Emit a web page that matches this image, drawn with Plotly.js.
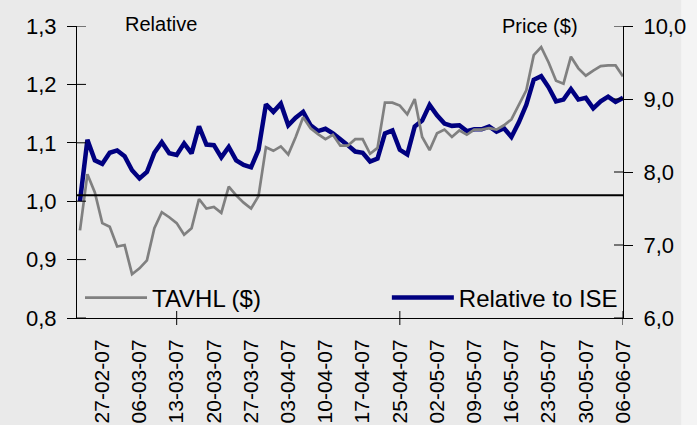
<!DOCTYPE html>
<html>
<head>
<meta charset="utf-8">
<script src="https://cdn.plot.ly/plotly-3.0.1.min.js"></script>
<style>
  html, body { margin: 0; padding: 0; background: #eaeaea; }
  #chart { width: 697px; height: 425px; }
</style>
</head>
<body>
<div id="chart"></div>
<script>
// Trading days (category axis)
const dates = ['22-02-07','23-02-07','26-02-07','27-02-07','28-02-07',
  '01-03-07','02-03-07','05-03-07','06-03-07','07-03-07','08-03-07','09-03-07','12-03-07','13-03-07','14-03-07','15-03-07','16-03-07','19-03-07','20-03-07','21-03-07','22-03-07','23-03-07','26-03-07','27-03-07','28-03-07','29-03-07','30-03-07',
  '02-04-07','03-04-07','04-04-07','05-04-07','06-04-07','09-04-07','10-04-07','11-04-07','12-04-07','13-04-07','16-04-07','17-04-07','18-04-07','19-04-07','20-04-07','24-04-07','25-04-07','26-04-07','27-04-07','30-04-07',
  '01-05-07','02-05-07','03-05-07','04-05-07','07-05-07','08-05-07','09-05-07','10-05-07','11-05-07','14-05-07','15-05-07','16-05-07','17-05-07','18-05-07','21-05-07','22-05-07','23-05-07','24-05-07','25-05-07','28-05-07','29-05-07','30-05-07','31-05-07',
  '01-06-07','04-06-07','05-06-07','06-06-07'];

// TAVHL price ($), right axis
const priceTAVHL = [7.20,7.97,7.72,7.30,7.25,6.98,7.00,6.60,6.68,6.79,
  7.23,7.45,7.38,7.30,7.14,7.23,7.63,7.50,7.52,7.44,
  7.80,7.68,7.58,7.50,7.67,8.34,8.29,8.35,8.24,8.48,
  8.75,8.60,8.52,8.45,8.51,8.36,8.36,8.45,8.45,8.25,
  8.33,8.95,8.95,8.91,8.79,9.00,8.48,8.30,8.53,8.58,
  8.48,8.57,8.51,8.58,8.58,8.60,8.58,8.64,8.72,8.92,
  9.12,9.60,9.71,9.50,9.25,9.21,9.58,9.42,9.32,9.39,
  9.45,9.46,9.46,9.31];

// Relative to ISE, left axis
const relativeISE = [1.000,1.105,1.070,1.064,1.083,1.087,1.077,1.053,1.039,1.050,
  1.083,1.101,1.082,1.079,1.099,1.082,1.128,1.097,1.096,1.075,
  1.093,1.070,1.062,1.058,1.088,1.166,1.153,1.167,1.130,1.143,
  1.153,1.130,1.120,1.124,1.116,1.107,1.096,1.085,1.083,1.068,
  1.073,1.116,1.121,1.088,1.080,1.128,1.138,1.165,1.147,1.133,
  1.129,1.130,1.120,1.123,1.123,1.128,1.119,1.125,1.110,1.135,
  1.165,1.208,1.214,1.195,1.171,1.174,1.192,1.174,1.177,1.159,
  1.171,1.179,1.170,1.177];

const tickLabels = ['27-02-07','06-03-07','13-03-07','20-03-07','27-03-07','03-04-07','10-04-07',
  '17-04-07','25-04-07','02-05-07','09-05-07','16-05-07','23-05-07','30-05-07','06-06-07'];
const majorTicks = ['13-03-07','25-04-07','06-06-07'];
const leftTicks = [0.8,0.9,1.0,1.1,1.2,1.3];
const rightTicks = [6,7,8,9,10];
const refLevel = 1.01;

const FONT = 'Liberation Sans, Arial, sans-serif';

const traces = [
  {
    x: dates, y: priceTAVHL, name: 'TAVHL ($)', type: 'scatter', mode: 'lines',
    yaxis: 'y2', legend: 'legend',
    line: {color: '#808080', width: 2.7}
  },
  {
    x: dates, y: relativeISE, name: 'Relative to ISE', type: 'scatter', mode: 'lines',
    yaxis: 'y', legend: 'legend2',
    line: {color: '#000080', width: 4.5}
  }
];

const shapes = [];
// reference line
shapes.push({type: 'line', xref: 'paper', x0: 0, x1: 1, yref: 'y', y0: refLevel, y1: refLevel,
  line: {color: '#000000', width: 2}});
// inner halves of cross ticks (left)
leftTicks.forEach(v => shapes.push({type: 'line', xref: 'paper', xsizemode: 'pixel', xanchor: 0,
  x0: 0, x1: 9, yref: 'y', y0: v, y1: v, line: {color: '#000', width: 1}}));
// inner halves (right)
rightTicks.forEach(v => shapes.push({type: 'line', xref: 'paper', xsizemode: 'pixel', xanchor: 1,
  x0: -9, x1: 0, yref: 'y2', y0: v, y1: v, line: {color: '#000', width: 1}}));
// x cross ticks
majorTicks.forEach(d => shapes.push({type: 'line', xref: 'x', x0: d, x1: d, yref: 'paper',
  ysizemode: 'pixel', yanchor: 0, y0: -7, y1: 7, line: {color: '#000', width: 1}}));
// right light strip
shapes.push({type: 'rect', xref: 'paper', yref: 'paper', x0: 1.1065, x1: 1.2, y0: -1, y1: 2,
  fillcolor: '#f4f4f4', line: {width: 0}, layer: 'below'});

const layout = {
  width: 697, height: 425,
  paper_bgcolor: '#eaeaea', plot_bgcolor: '#eaeaea',
  separators: ',.',
  margin: {l: 77, r: 74, t: 26, b: 107, pad: 0},
  font: {family: FONT, color: '#000000', size: 21},
  showlegend: true,
  xaxis: {
    type: 'category', range: [-0.4, 73],
    tickmode: 'array', tickvals: tickLabels, ticktext: tickLabels,
    tickangle: -90, ticks: '', ticklabelstandoff: 12,
    showline: true, linecolor: '#000', linewidth: 1,
    showgrid: false, zeroline: false,
    tickfont: {family: FONT, size: 21, color: '#000'}
  },
  yaxis: {
    range: [0.8, 1.3], tickmode: 'array', tickvals: leftTicks, tickformat: '.1f',
    ticks: 'outside', ticklen: 9, tickcolor: '#000', tickwidth: 1,
    showline: true, linecolor: '#000', linewidth: 1,
    showgrid: false, zeroline: false, ticklabelstandoff: 6,
    tickfont: {family: FONT, size: 22, color: '#000'}
  },
  yaxis2: {
    overlaying: 'y', side: 'right', anchor: 'x',
    range: [6, 10], tickmode: 'array', tickvals: rightTicks, tickformat: '.1f',
    ticks: 'outside', ticklen: 9, tickcolor: '#000', tickwidth: 1,
    showline: true, linecolor: '#000', linewidth: 1,
    showgrid: false, zeroline: false, ticklabelstandoff: 6,
    tickfont: {family: FONT, size: 22, color: '#000'}
  },
  legend: {
    x: 0.0055, xanchor: 'left', y: 0.0685, yanchor: 'middle',
    itemwidth: 62,
    bgcolor: 'rgba(0,0,0,0)', borderwidth: 0,
    font: {family: FONT, size: 24, color: '#000'}
  },
  legend2: {
    x: 0.5675, xanchor: 'left', y: 0.0685, yanchor: 'middle',
    itemwidth: 62,
    bgcolor: 'rgba(0,0,0,0)', borderwidth: 0,
    font: {family: FONT, size: 24, color: '#000'}
  },
  annotations: [
    {text: 'Relative', xref: 'paper', yref: 'paper', x: 0.084, y: 1.0068,
     xanchor: 'left', yanchor: 'middle', showarrow: false,
     font: {family: FONT, size: 20, color: '#000'}},
    {text: 'Price ($)', xref: 'paper', yref: 'paper', x: 0.775, y: 1.0,
     xanchor: 'left', yanchor: 'middle', showarrow: false,
     font: {family: FONT, size: 20, color: '#000'}}
  ],
  shapes: shapes
};

Plotly.newPlot('chart', traces, layout, {displayModeBar: false, staticPlot: true});
</script>
</body>
</html>
